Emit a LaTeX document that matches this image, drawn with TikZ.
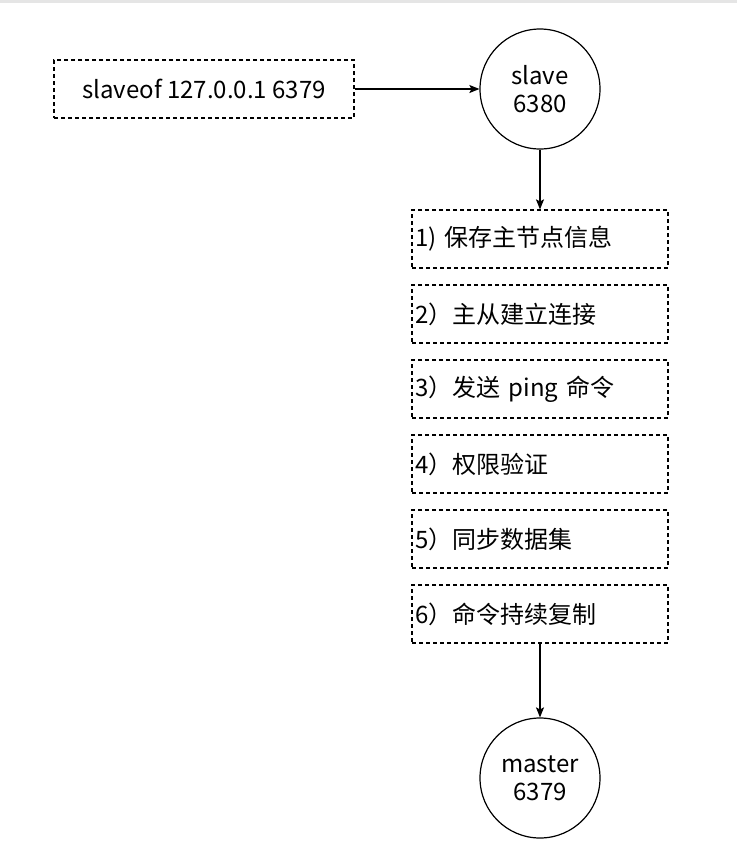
\documentclass[tikz,border=0pt]{standalone}
\usepackage{fontspec}
\setmainfont{Noto Sans CJK SC}
\usetikzlibrary{arrows.meta,calc}
\tikzstyle{dbox}=[rectangle,draw=black,dash pattern=on 3pt off 2.25pt,
  line width=0.9pt,minimum height=43.5pt,inner sep=0pt,font=\fontsize{18}{21}\selectfont]
\tikzstyle{sbox}=[dbox,minimum width=225pt,align=center]
\tikzstyle{step_box}=[dbox,text width=187pt,inner xsep=2.5pt,align=left]
\tikzstyle{cn}=[circle,draw=black,line width=0.9pt,minimum size=90pt,inner sep=0pt,
  align=center,font=\fontsize{18}{21}\selectfont]
\tikzstyle{arr}=[line width=0.9pt,-{Stealth[length=7.5pt,width=6pt,inset=1.5pt]}]
\tikzstyle{none}=[]

\begin{document}
\begin{tikzpicture}[x=0.75pt, y=-0.75pt]
            \useasboundingbox (0,0) rectangle (737,858);
            \fill [black!10] (0,0) rectangle (737,2.5);
            \node [style=sbox] (0) at (204, 89) {slaveof 127.0.0.1 6379};
            \node [style=cn] (1) at (540, 89) {slave\\6380};
            \node [style=step_box] (2) at (540, 239) {1) 保存主节点信息};
            \node [style=step_box] (3) at (540, 314) {2）主从建立连接};
            \node [style=step_box] (4) at (540, 389) {3）发送 ping 命令};
            \node [style=step_box] (5) at (540, 464) {4）权限验证};
            \node [style=step_box] (6) at (540, 539) {5）同步数据集};
            \node [style=step_box] (7) at (540, 614) {6）命令持续复制};
            \node [style=cn] (8) at (540, 778) {master\\6379};
            \draw [style=arr] (0) to (1);
            \draw [style=arr] (1) to (2);
            \draw [style=arr] (7) to (8);
\end{tikzpicture}
\end{document}
